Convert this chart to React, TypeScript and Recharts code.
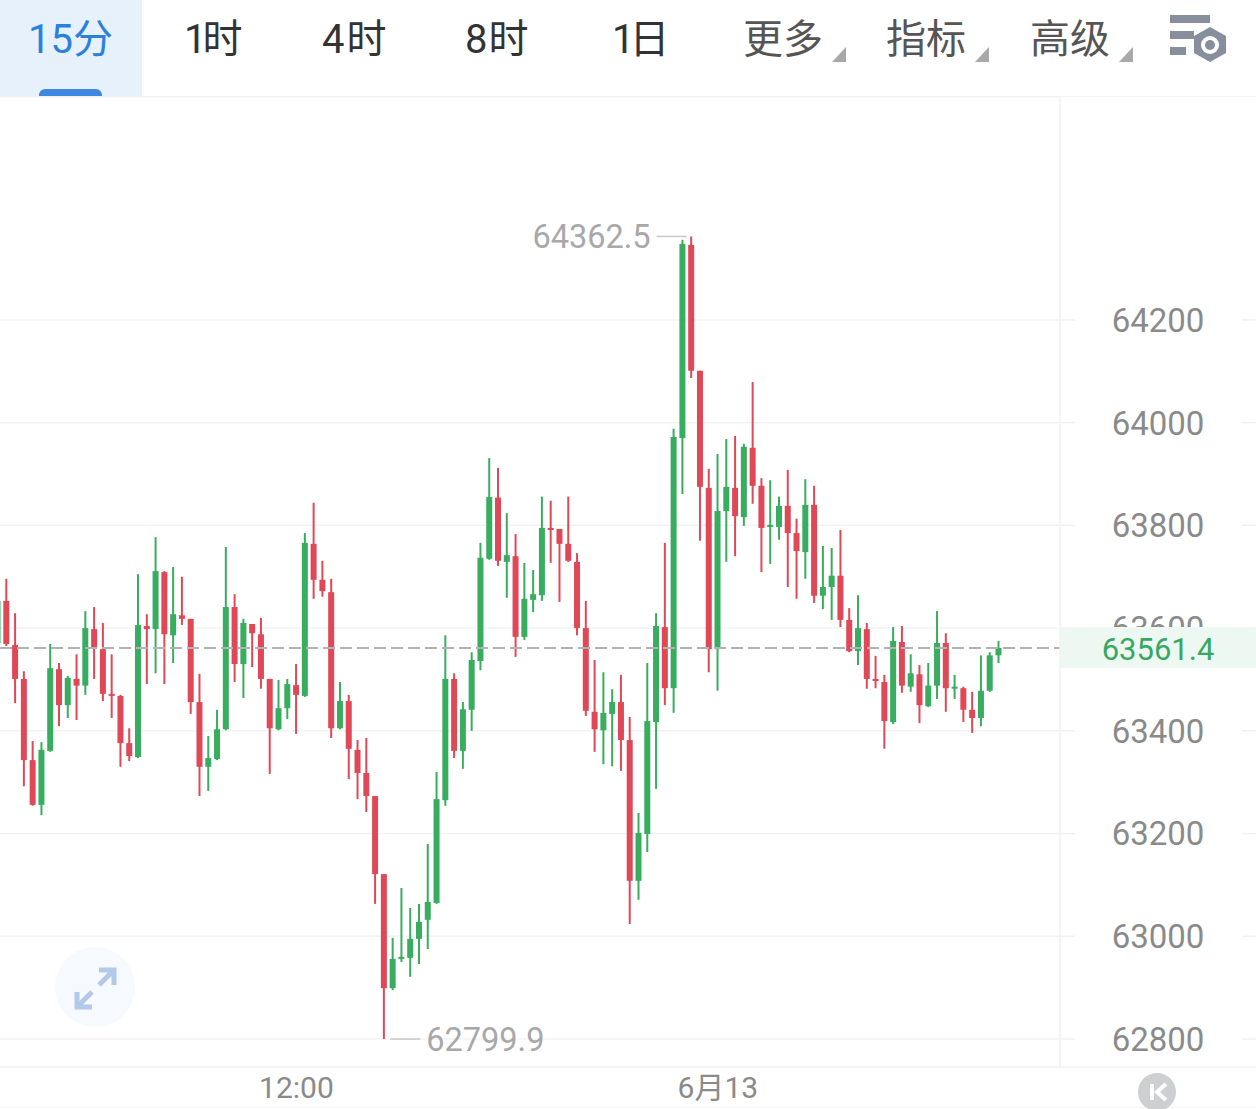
import { Bar, CartesianGrid, ComposedChart, ReferenceDot, ReferenceLine, XAxis, YAxis } from 'recharts';

const FONT = 'Roboto, "Noto Sans CJK SC", sans-serif';
const RED = '#df4857';
const GREEN = '#38ad5f';

// 15 minute candles, oldest first
const opens = [
  63571, 63653, 63567, 63501, 63343, 63256, 63361, 63520, 63450, 63501, 63488, 63598, 63559, 63472, 63468, 63376, 63349, 63604, 63598, 63709,
  63586, 63625, 63618, 63456, 63330, 63345, 63403, 63641, 63530, 63608, 63588, 63501, 63403, 63444, 63489, 63468, 63764, 63694, 63670, 63405,
  63458, 63363, 63318, 63273, 63121, 62899, 62956, 62958, 62995, 63032, 63065, 63265, 63501, 63361, 63441, 63536, 63735, 63854, 63729, 63740,
  63583, 63655, 63664, 63795, 63793, 63764, 63729, 63600, 63437, 63401, 63433, 63456, 63382, 63108, 63199, 63417, 63602, 63483, 63970, 64346,
  64101, 63873, 63559, 63828, 63873, 63816, 63951, 63877, 63797, 63797, 63838, 63785, 63748, 63840, 63663, 63680, 63702, 63616, 63555, 63598,
  63501, 63495, 63417, 63573, 63486, 63510, 63448, 63488, 63571, 63482, 63483, 63441, 63425, 63478, 63547,
];
const highs = [
  63661, 63696, 63629, 63516, 63380, 63378, 63569, 63532, 63507, 63549, 63633, 63641, 63610, 63549, 63470, 63405, 63705, 63627, 63777, 63711,
  63719, 63700, 63618, 63511, 63390, 63441, 63758, 63666, 63618, 63608, 63620, 63501, 63499, 63501, 63530, 63785, 63844, 63731, 63696, 63495,
  63470, 63382, 63386, 63273, 63121, 62997, 63094, 63055, 63063, 63180, 63320, 63586, 63512, 63456, 63553, 63766, 63931, 63912, 63824, 63783,
  63727, 63713, 63856, 63848, 63793, 63856, 63746, 63653, 63538, 63514, 63481, 63509, 63427, 63240, 63532, 63629, 63766, 63988, 64356, 64362.5,
  64101, 63910, 63939, 63968, 63974, 63959, 64079, 63892, 63888, 63856, 63908, 63813, 63890, 63877, 63760, 63756, 63791, 63639, 63664, 63610,
  63546, 63509, 63602, 63604, 63549, 63528, 63532, 63633, 63590, 63509, 63486, 63476, 63547, 63553, 63575,
];
const lows = [
  63561, 63565, 63454, 63292, 63254, 63236, 63359, 63409, 63425, 63421, 63470, 63501, 63458, 63425, 63330, 63341, 63347, 63491, 63512, 63491,
  63532, 63606, 63433, 63273, 63283, 63343, 63401, 63495, 63464, 63524, 63482, 63316, 63401, 63423, 63394, 63466, 63657, 63661, 63386, 63403,
  63306, 63267, 63242, 63063, 62799.9, 62895, 62950, 62921, 62946, 62975, 63063, 63254, 63347, 63326, 63400, 63518, 63733, 63721, 63659, 63544,
  63577, 63631, 63653, 63727, 63651, 63729, 63586, 63429, 63359, 63335, 63331, 63322, 63024, 63071, 63164, 63287, 63450, 63435, 63861, 64087,
  63770, 63514, 63478, 63729, 63740, 63799, 63842, 63709, 63725, 63772, 63680, 63657, 63696, 63649, 63637, 63616, 63602, 63553, 63528, 63482,
  63483, 63365, 63413, 63474, 63476, 63415, 63446, 63462, 63437, 63462, 63417, 63396, 63409, 63476, 63532,
];
const closes = [
  63653, 63569, 63501, 63343, 63256, 63363, 63522, 63450, 63503, 63488, 63600, 63561, 63472, 63468, 63376, 63351, 63606, 63598, 63711, 63588,
  63627, 63618, 63456, 63330, 63347, 63403, 63641, 63530, 63610, 63590, 63501, 63405, 63444, 63491, 63470, 63766, 63694, 63672, 63405, 63458,
  63365, 63318, 63273, 63121, 62899, 62956, 62960, 62995, 63028, 63067, 63267, 63501, 63361, 63442, 63538, 63737, 63855, 63731, 63742, 63583,
  63657, 63666, 63795, 63791, 63764, 63731, 63600, 63439, 63403, 63435, 63456, 63382, 63108, 63201, 63419, 63604, 63483, 63972, 64348, 64101,
  63875, 63559, 63828, 63875, 63818, 63953, 63877, 63795, 63801, 63838, 63785, 63750, 63840, 63663, 63680, 63702, 63616, 63555, 63600, 63501,
  63497, 63419, 63575, 63488, 63512, 63450, 63488, 63571, 63483, 63486, 63441, 63425, 63478, 63547, 63561.4,
];

const priceTicks = [62800, 63000, 63200, 63400, 63600, 63800, 64000, 64200];
const coveredTick = 63600; // sits behind the last price tag, only its top shows
const timeTicks = [34, 82];
const timeLabels = ['12:00', '6月13'];
const lastPrice = 63561.4;
const highMark = { index: 79, price: 64362.5 };
const lowMark = { index: 44, price: 62799.9 };
const intervals = ['15分', '1时', '4时', '8时', '1日'];
const menus = ['更多', '指标', '高级'];

const candles = opens.map((open, index) => ({
  index,
  open,
  high: highs[index],
  low: lows[index],
  close: closes[index],
}));

function Candle(props: any) {
  const { x, y, width, height, payload } = props;
  const perUnit = height / (payload.high - payload.low);
  const color = payload.close >= payload.open ? GREEN : RED;
  const top = y + (payload.high - Math.max(payload.open, payload.close)) * perUnit;
  const bodyHeight = Math.max(Math.abs(payload.open - payload.close) * perUnit, 2);
  const mid = x + width / 2;
  return (
    <g>
      <line x1={mid} x2={mid} y1={y} y2={y + height} stroke={color} strokeWidth={2} />
      <rect x={x} y={top} width={width} height={bodyHeight} fill={color} />
    </g>
  );
}

function PriceTick(props: any) {
  const { x, y, payload } = props;
  const covered = payload.value === coveredTick;
  return (
    <g>
      <line x1={x + 165} x2={x + 181} y1={y} y2={y} stroke="#f1f1f1" strokeWidth={1.5} />
      {covered && (
        <clipPath id="coveredTickClip">
          <rect x={x} y={y - 40} width={181} height={39} />
        </clipPath>
      )}
      <text
        x={x + 81}
        y={y}
        dy="0.36em"
        textAnchor="middle"
        fontSize={33}
        fontFamily={FONT}
        fill="#8a8a8a"
        clipPath={covered ? 'url(#coveredTickClip)' : undefined}
      >
        {payload.value}
      </text>
    </g>
  );
}

function LastPriceLine(props: any) {
  const { x1, x2, y1 } = props;
  const left = Math.min(x1, x2);
  const right = Math.max(x1, x2);
  return (
    <g>
      <line x1={left} x2={right} y1={y1} y2={y1} stroke="#b2b2b2" strokeWidth={2} strokeDasharray="12 5" />
      <rect x={right} y={y1 - 21} width={196} height={41} fill="#eef8f2" />
      <text x={right + 98} y={y1 + 1} dy="0.36em" textAnchor="middle" fontSize={31} fontFamily={FONT} fill="#37a862">
        {lastPrice}
      </text>
    </g>
  );
}

function HighMark(props: any) {
  const { cx, cy } = props;
  return (
    <g>
      <line x1={cx - 35} x2={cx - 5} y1={cy} y2={cy} stroke="#c8c8c8" strokeWidth={1.5} />
      <text x={cx - 41} y={cy} dy="0.36em" textAnchor="end" fontSize={32.5} fontFamily={FONT} fill="#a8a8a8">
        {highMark.price}
      </text>
    </g>
  );
}

function LowMark(props: any) {
  const { cx, cy } = props;
  return (
    <g>
      <line x1={cx + 6} x2={cx + 36} y1={cy} y2={cy} stroke="#c8c8c8" strokeWidth={1.5} />
      <text x={cx + 42} y={cy} dy="0.36em" textAnchor="start" fontSize={32.5} fontFamily={FONT} fill="#a8a8a8">
        {lowMark.price}
      </text>
    </g>
  );
}

const intervalLefts = [28, 184, 322, 465, 612];
const intervalSpacing = [0, -4, 2, 1, -5];
const menuLefts = [743, 886, 1030];

function Toolbar() {
  const label = { position: 'absolute', top: 11, lineHeight: '58px', fontSize: 40, fontFamily: FONT, whiteSpace: 'nowrap' } as const;
  return (
    <>
      <div style={{ position: 'absolute', left: 0, top: 0, width: 142, height: 96, background: '#e6f1fc' }} />
      <div style={{ position: 'absolute', left: 39, top: 89, width: 63, height: 7, background: '#3f88e0', borderRadius: '6px 6px 0 0' }} />
      <div style={{ position: 'absolute', left: 0, top: 96, width: 1256, height: 1, background: '#f2f2f2' }} />
      {intervals.map((text, i) => (
        <span key={text} style={{ ...label, left: intervalLefts[i], letterSpacing: intervalSpacing[i], color: i === 0 ? '#2b80de' : '#333' }}>
          {text}
        </span>
      ))}
      {menus.map((text, i) => (
        <span key={text} style={{ ...label, left: menuLefts[i], color: '#555' }}>
          {text}
        </span>
      ))}
      <svg width={1256} height={1109} style={{ position: 'absolute', left: 0, top: 0, pointerEvents: 'none' }}>
        {menuLefts.map((left) => (
          <polygon key={left} points={`${left + 103},47 ${left + 103},62 ${left + 89},62`} fill="#a8a8a8" />
        ))}
        <g fill="#878e9c">
          <rect x={1170} y={15} width={40} height={8} />
          <rect x={1170} y={31} width={24} height={8} />
          <rect x={1170} y={47} width={16} height={8} />
        </g>
        <polygon points="1210,27 1226,36 1226,53 1210,62 1194,53 1194,36" fill="#878e9c" />
        <circle cx={1210} cy={45} r={9} fill="#fff" />
        <circle cx={1210} cy={45} r={5} fill="#878e9c" />
        <circle cx={95} cy={987} r={40} fill="#f6f9fe" />
        <g stroke="#b4c8ea" strokeWidth={5} fill="none">
          <path d="M99 985 L113 971 M99 970 L114 970 L114 985" />
          <path d="M92 992 L78 1006 M77 992 L77 1007 L92 1007" />
        </g>
        <line x1={1060} x2={1256} y1={1067} y2={1067} stroke="#f2f2f2" strokeWidth={1.5} />
        <line x1={0} x2={1256} y1={1107} y2={1107} stroke="#f6f6f6" strokeWidth={1.5} />
        <circle cx={1157} cy={1092} r={19} fill="#cdcfd1" />
        <path d="M1152 1084 V1100 M1166 1084 L1157 1092 L1166 1100" stroke="#fff" strokeWidth={4} fill="none" />
      </svg>
    </>
  );
}

export default function App() {
  return (
    <div style={{ position: 'relative', width: 1256, height: 1109, background: '#fff', overflow: 'hidden' }}>
      <style>{'body{margin:0}'}</style>
      <ComposedChart width={1256} height={1109} data={candles} margin={{ top: 97, right: 0, bottom: 0, left: 0 }}>
        <CartesianGrid vertical={false} stroke="#f3f3f3" strokeWidth={1.5} />
        <XAxis
          dataKey="index"
          type="number"
          domain={[0.237, 120.96]}
          allowDataOverflow
          ticks={timeTicks}
          interval={0}
          height={42}
          tickLine={false}
          tickMargin={4}
          tickFormatter={(v) => timeLabels[timeTicks.indexOf(v)]}
          tick={{ fill: '#8a8a8a', fontSize: 30, fontFamily: FONT }}
          axisLine={{ stroke: '#f2f2f2', strokeWidth: 1.5 }}
        />
        <YAxis
          orientation="right"
          width={196}
          domain={[62745.5, 64634]}
          allowDataOverflow
          ticks={priceTicks}
          interval={0}
          tickSize={15}
          tickLine={{ stroke: '#f1f1f1', strokeWidth: 1.5 }}
          tick={<PriceTick />}
          axisLine={{ stroke: '#f2f2f2', strokeWidth: 1.5 }}
        />
        <Bar dataKey={(d: any) => [d.low, d.high]} barSize={6} shape={<Candle />} isAnimationActive={false} />
        <ReferenceLine y={lastPrice} shape={<LastPriceLine />} />
        <ReferenceDot x={highMark.index} y={highMark.price} shape={<HighMark />} />
        <ReferenceDot x={lowMark.index} y={lowMark.price} shape={<LowMark />} />
      </ComposedChart>
      <Toolbar />
    </div>
  );
}
